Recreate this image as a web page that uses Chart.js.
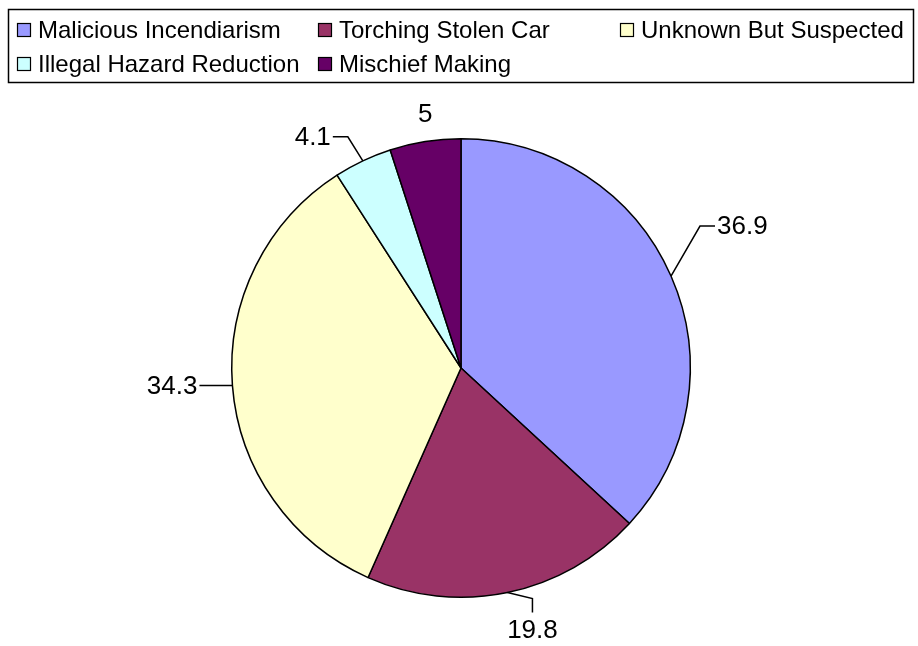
<!DOCTYPE html>
<html>
<head>
<meta charset="utf-8">
<script src="https://cdn.jsdelivr.net/npm/chart.js@4"></script>
<style>
  html, body { margin: 0; padding: 0; background: #fff; }
  #wrap { width: 918px; height: 646px; position: relative; }
</style>
</head>
<body>
<div id="wrap"><canvas id="myChart" width="918" height="646"></canvas></div>
<script>
// data
const categories = ['Malicious Incendiarism', 'Torching Stolen Car', 'Unknown But Suspected', 'Illegal Hazard Reduction', 'Mischief Making'];
const values = [36.9, 19.8, 34.3, 4.1, 5];
const sliceColors = ['#9999FF', '#993366', '#FFFFCC', '#CCFFFF', '#660066'];

// leader line layout per label: elbow offset from slice edge, tail offset from elbow, text side
const labelLayout = [
    { elbow: [29, -50], tail: [15, 0], align: 'left' },
    { elbow: [25, 6], tail: [0, 14], align: 'below' },
    { elbow: [-33, 0], tail: [0, 0], align: 'right' },
    { elbow: [-15, -24], tail: [-15, 0], align: 'right' },
    { elbow: null, text: [0, -27], align: 'center' }
];

const FONT = '"Liberation Sans", Arial, sans-serif';

const labelPlugin = {
    id: 'pieLabels',
    afterDatasetsDraw(chart) {
        const ctx = chart.ctx;
        const arcs = chart.getDatasetMeta(0).data;
        ctx.save();
        ctx.strokeStyle = '#000';
        ctx.lineWidth = 1.5;
        ctx.fillStyle = '#000';
        ctx.font = '26px ' + FONT;
        arcs.forEach((arc, i) => {
            const mid = (arc.startAngle + arc.endAngle) / 2;
            const ex = arc.x + Math.cos(mid) * arc.outerRadius;
            const ey = arc.y + Math.sin(mid) * arc.outerRadius;
            const lay = labelLayout[i];
            const txt = String(values[i]);
            if (!lay.elbow) {
                ctx.textAlign = 'center';
                ctx.textBaseline = 'middle';
                ctx.fillText(txt, ex + lay.text[0], ey + lay.text[1]);
                return;
            }
            const bx = ex + lay.elbow[0], by = ey + lay.elbow[1];
            const tx = bx + lay.tail[0], ty = by + lay.tail[1];
            ctx.beginPath();
            ctx.moveTo(ex, ey);
            ctx.lineTo(bx, by);
            ctx.lineTo(tx, ty);
            ctx.stroke();
            if (lay.align === 'left') {
                ctx.textAlign = 'left'; ctx.textBaseline = 'middle';
                ctx.fillText(txt, tx + 2, ty + 1);
            } else if (lay.align === 'right') {
                ctx.textAlign = 'right'; ctx.textBaseline = 'middle';
                ctx.fillText(txt, tx - 2, ty + 1);
            } else {
                ctx.textAlign = 'center'; ctx.textBaseline = 'top';
                ctx.fillText(txt, tx, ty + 5);
            }
        });
        ctx.restore();
    }
};

const legendPlugin = {
    id: 'boxLegend',
    afterDraw(chart) {
        const ctx = chart.ctx;
        ctx.save();
        ctx.lineWidth = 1.5;
        ctx.strokeStyle = '#000';
        ctx.strokeRect(8.5, 9.5, 905, 73);
        const colX = [17, 318, 620];
        const rowY = [30, 64];
        ctx.font = '24px ' + FONT;
        ctx.textBaseline = 'middle';
        ctx.textAlign = 'left';
        categories.forEach((name, i) => {
            const x = colX[i % 3], y = rowY[Math.floor(i / 3)];
            ctx.fillStyle = sliceColors[i];
            ctx.fillRect(x, y - 7, 14, 14);
            ctx.lineWidth = 1.2;
            ctx.strokeRect(x + 0.5, y - 6.5, 13, 13);
            ctx.fillStyle = '#000';
            ctx.fillText(name, x + 21, y + 1);
        });
        ctx.restore();
    }
};

const ctx = document.getElementById('myChart').getContext('2d');
new Chart(ctx, {
    type: 'pie',
    data: {
        labels: categories,
        datasets: [{
            data: values,
            backgroundColor: sliceColors,
            borderColor: '#000',
            borderWidth: 1.5
        }]
    },
    options: {
        responsive: false,
        animation: false,
        layout: { padding: { left: 231, right: 227, top: 138, bottom: 48 } },
        plugins: {
            legend: { display: false },
            tooltip: { enabled: false }
        }
    },
    plugins: [labelPlugin, legendPlugin]
});
</script>
</body>
</html>
